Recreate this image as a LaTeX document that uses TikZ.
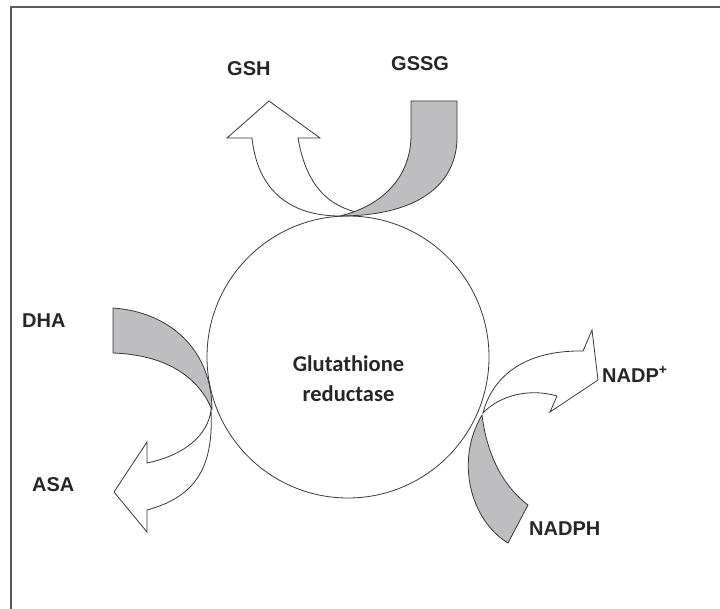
\documentclass[tikz,border=0pt]{standalone}
\usepackage{fontspec}
\setmainfont{Liberation Sans}
\newfontfamily\enzymefont{Carlito}
\begin{document}
\begin{tikzpicture}[x=1bp,y=-1bp,
  label/.style={inner sep=0pt, anchor=base west, font=\fontsize{20bp}{24bp}\selectfont\bfseries, text=black!85},
  enzyme/.style={inner sep=0pt, anchor=base, font=\enzymefont\fontsize{22.5bp}{27bp}\selectfont\bfseries, text=black!85},
  band/.style={draw=black!78, line width=0.8bp, fill=bandgray, line join=round},
  openarrow/.style={draw=black!78, line width=0.8bp, fill=white, line join=miter},
  frameline/.style={draw=black!65, line width=1.8bp}]
\definecolor{bandgray}{RGB}{190,190,192}
\useasboundingbox (0,0) rectangle (720,609);

% frame
\draw[frameline] (720,7) -- (11,7) -- (11,609);

% GSSG -> GSH (top)
\draw[openarrow] (252,138) -- (227,138) -- (269,101) -- (320,138) -- (298,138)
  .. controls (305,178) and (322,205) .. (360,213) -- (340,216)
  .. controls (295,216) and (258,195) .. (252,138) -- cycle;
\draw[band] (411,101) -- (457,101) -- (457,140)
  .. controls (455,190) and (410,216) .. (340,216)
  .. controls (385,205) and (411,175) .. (411,135) -- cycle;

% DHA -> ASA (left)
\draw[openarrow] (147,463) -- (147,442) -- (114,492) -- (147,532) -- (147,510)
  .. controls (195,497) and (214,468) .. (211,410)
  .. controls (208,435) and (185,455) .. (147,463) -- cycle;
\draw[band] (113,308) .. controls (170,312) and (212,350) .. (212,410)
  .. controls (200,380) and (170,355) .. (113,353) -- cycle;

% NADPH -> NADP+ (right)
\draw[openarrow] (583,351) -- (592,330) -- (598,380) -- (550,412) -- (557,396)
  .. controls (530,388) and (500,395) .. (483,413)
  .. controls (490,385) and (515,350) .. (583,351) -- cycle;
\draw[band] (528,505) -- (508,543)
  .. controls (470,520) and (455,460) .. (482,415)
  .. controls (485,440) and (495,480) .. (528,505) -- cycle;

% enzyme
\node[circle, draw=black!78, line width=0.8bp, minimum size=282bp, inner sep=0pt] (gr) at (348,357) {};
\node[enzyme] (grname) at (348.5,371) {Glutathione};
\node[enzyme] (grname2) at (348.5,401) {reductase};

% substrate and product labels
\node[label] (gsh) at (227,76) {GSH};
\node[label] (gssg) at (391,71) {GSSG};
\node[label] (dha) at (22,327) {DHA};
\node[label] (asa) at (32,491) {ASA};
\node[label] (nadp) at (602,382) {NADP\textsuperscript{+}};
\node[label] (nadph) at (529,535) {NADPH};
\end{tikzpicture}
\end{document}
